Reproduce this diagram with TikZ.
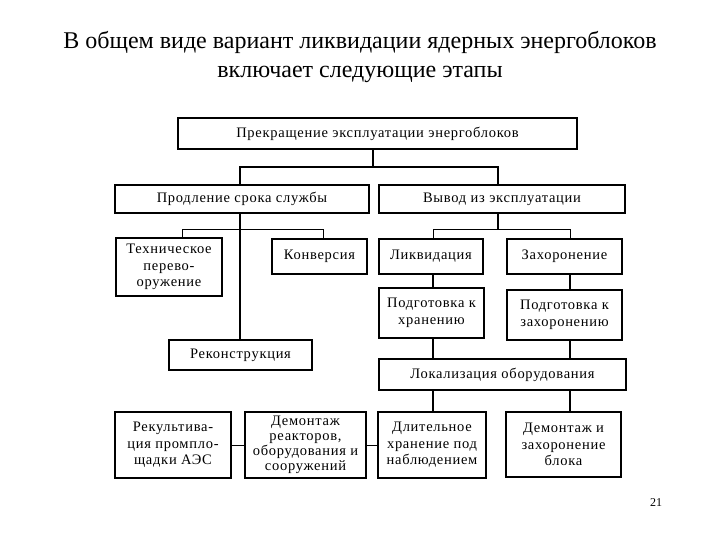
\documentclass[tikz,border=0pt]{standalone}
\usepackage{fontspec}
\setmainfont{Liberation Serif}
\newfontfamily\boxfont[LetterSpace=5]{Liberation Serif}
\begin{document}
\begin{tikzpicture}[x=1pt,y=-1pt,
  box/.style={draw,line width=1.4pt,rectangle,inner sep=1pt,align=center,
    font=\boxfont\fontsize{14.5}{16.5}\selectfont},
  thk/.style={line width=2.2pt},
  med/.style={line width=1.3pt},
  thn/.style={line width=0.8pt}]
\useasboundingbox (0,0) rectangle (720,540);
% title
\node[font=\fontsize{24}{29}\selectfont,align=center] (title) at (360,57)
  {В общем виде вариант ликвидации ядерных энергоблоков\\включает следующие этапы};
\node[font=\fontsize{12}{14}\selectfont] (page) at (656,503) {21};
% boxes
\node[box,minimum width=399pt,minimum height=31pt] (top) at (377.5,133.5) {Прекращение эксплуатации энергоблоков};
\node[box,minimum width=254pt,minimum height=28pt] (prod) at (242,199) {Продление срока службы};
\node[box,minimum width=246pt,minimum height=28pt] (vyv) at (502,199) {Вывод из эксплуатации};
\node[box,minimum width=106pt,minimum height=58pt] (tech) at (169,267) {Техническое\\перево-\\оружение};
\node[box,minimum width=95pt,minimum height=35pt] (konv) at (319.5,256.5) {Конверсия};
\node[box,minimum width=104pt,minimum height=35pt] (likv) at (431,256.5) {Ликвидация};
\node[box,minimum width=115pt,minimum height=35pt] (zah) at (564.5,256.5) {Захоронение};
\node[box,minimum width=105pt,minimum height=50pt] (podhr) at (431.5,313) {Подготовка к\\хранению};
\node[box,minimum width=115pt,minimum height=50pt] (podzah) at (564.5,315) {Подготовка к\\захоронению};
\node[box,minimum width=143pt,minimum height=30pt] (rekon) at (240.5,355) {Реконструкция};
\node[box,minimum width=247pt,minimum height=31pt] (lok) at (502.5,374.5) {Локализация оборудования};
\node[box,minimum width=116pt,minimum height=66pt] (rekult) at (173,445) {Рекультива-\\ция промпло-\\щадки АЭС};
\node[box,minimum width=121pt,minimum height=66pt,font=\boxfont\fontsize{14.5}{15}\selectfont] (demr) at (305.5,445) {Демонтаж\\реакторов,\\оборудования и\\сооружений};
\node[box,minimum width=108pt,minimum height=66pt] (dlit) at (432,445) {Длительное\\хранение под\\наблюдением};
\node[box,minimum width=115pt,minimum height=65pt] (demz) at (563.5,444.5) {Демонтаж и\\захоронение\\блока};
% junctions
\coordinate (jT) at (373,167);
\coordinate (jP) at (240,167);
\coordinate (jV) at (498,167);
\coordinate (kP) at (240,229);
\coordinate (kT) at (182,229);
\coordinate (kK) at (323,229);
\coordinate (kV) at (498,229);
\coordinate (kL) at (433,229);
\coordinate (kZ) at (570,229);
% connectors
\draw[thk] (top.south -| jT) -- (jT);
\draw[thk] (jP |- prod.north) -- (jP) -- (jV) -- (jV |- vyv.north);
\draw[thk] (kP |- prod.south) -- (kP |- rekon.north);
\draw[thn] (kT |- tech.north) -- (kT) -- (kK) -- (kK |- konv.north);
\draw[med] (kV |- vyv.south) -- (kV);
\draw[thn] (kL |- likv.north) -- (kL) -- (kZ) -- (kZ |- zah.north);
\draw[med] (kL |- likv.south) -- (kL |- podhr.north);
\draw[med] (kZ |- zah.south) -- (kZ |- podzah.north);
\draw[med] (kL |- podhr.south) -- (kL |- lok.north);
\draw[med] (kZ |- podzah.south) -- (kZ |- lok.north);
\draw[thk] (kL |- lok.south) -- (kL |- dlit.north);
\draw[thk] (kZ |- lok.south) -- (kZ |- demz.north);
\draw[thn] (rekult.east) -- (demr.west);
\draw[thn] (demr.east) -- (dlit.west);
\end{tikzpicture}
\end{document}
